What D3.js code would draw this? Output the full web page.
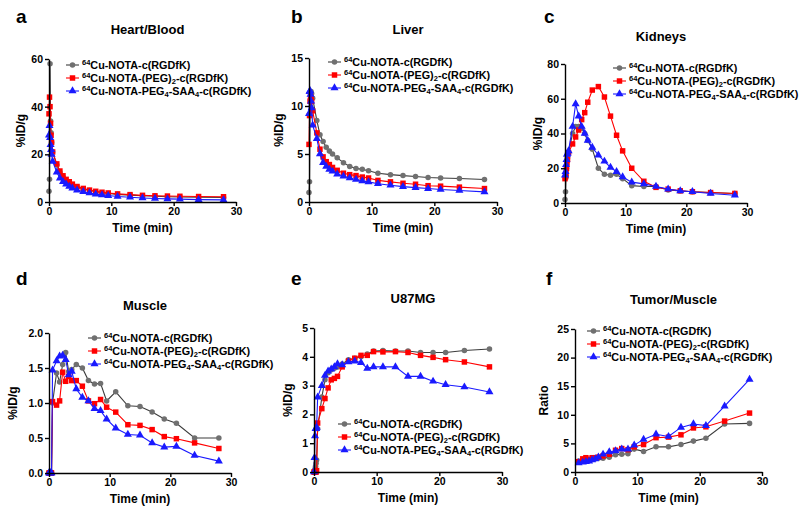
<!DOCTYPE html>
<html>
<head>
<meta charset="utf-8">
<title>Biodistribution curves</title>
<script src="https://cdn.jsdelivr.net/npm/d3@7/dist/d3.min.js"></script>
<style>
  * { margin: 0; padding: 0; }
  body { background: #fff; }
  text { font-family: Arial, "Liberation Sans", sans-serif; font-weight: bold; }
</style>
</head>
<body>
<div id="chart"></div>
<script>
// frame mid-times (min)
var times = [0, 0.083, 0.167, 0.25, 0.333, 0.417, 0.583, 1.25, 1.75, 2.25, 2.75, 3.25, 3.75,
  4.5, 5.5, 6.5, 7.5, 8.5, 9.5, 11, 13, 15, 17, 19, 21, 24, 28];
var timesRatio = [0.583, 1.25, 1.75, 2.25, 2.75, 3.25, 3.75,
  4.5, 5.5, 6.5, 7.5, 8.5, 9.5, 11, 13, 15, 17, 19, 21, 24, 28];

var seriesNames = ["NOTA", "PEG2", "SAA"];

var heartNota = [4.5, 9.5, 58, 34, 29, 25, 21, 15.5, 12.5, 10.5, 9, 8, 7.2, 6.3, 5.5, 4.8, 4.3, 3.9, 3.6, 3.2, 2.9, 2.6, 2.4, 2.2, 2.1, 2.0, 1.9];
var heartPeg2 = [37, 44, 40, 33, 28, 25, 21, 16, 13, 11, 9.5, 8.5, 7.5, 6.5, 5.7, 5.0, 4.5, 4.1, 3.8, 3.4, 3.1, 2.8, 2.6, 2.5, 2.4, 2.3, 2.2];
var heartSaa = [28, 32, 27, 24, 22, 20, 17, 12.5, 10, 8.5, 7.5, 6.5, 5.8, 5.0, 4.3, 3.8, 3.3, 3.0, 2.7, 2.3, 2.0, 1.7, 1.5, 1.3, 1.2, 1.0, 0.9];

var liverNota = [1.0, 2.1, 9, 11.3, 11.5, 11.3, 10.8, 8.5, 7.0, 6.3, 5.7, 5.3, 5.0, 4.6, 4.1, 3.7, 3.5, 3.4, 3.25, 3.0, 2.85, 2.75, 2.65, 2.55, 2.5, 2.45, 2.35];
var liverPeg2 = [6.0, 9.0, 10.5, 11.0, 10.8, 10.5, 9.5, 7.2, 5.5, 4.7, 4.2, 3.9, 3.6, 3.3, 3.0, 2.85, 2.75, 2.6, 2.5, 2.25, 2.1, 1.95, 1.85, 1.7, 1.65, 1.55, 1.4];
var liverSaa = [9.2, 11.5, 11.6, 11.2, 10.5, 9.8, 8.0, 6.6, 5.0, 4.1, 3.7, 3.4, 3.2, 2.9, 2.7, 2.5, 2.35, 2.2, 2.1, 1.9, 1.75, 1.6, 1.5, 1.4, 1.3, 1.2, 1.05];

var kidneyNota = [2, 6.5, 15, 20, 24, 26, 29, 40, 44, 44, 43, 40, 36, 31, 20, 16.5, 16, 16.5, 14, 10, 9.5, 9.5, 7.5, 7, 6.5, 6, 5.5];
var kidneyPeg2 = [14, 15, 17, 20, 23, 25, 29, 34, 38, 42, 48, 52, 58, 65, 67, 61, 50, 39, 30, 20, 12.5, 9, 8, 7, 6.5, 6, 5.5];
var kidneySaa = [16, 18, 22, 25, 28, 28.5, 30, 44, 57, 50, 44, 40, 36, 32, 27.5, 24, 20.5, 18, 15, 12, 11, 9.5, 8, 7, 6.5, 5.5, 4.5];

var muscleNota = [0, 0, 0, 0, 0, 0, 1.0, 1.43, 1.30, 1.55, 1.72, 1.45, 1.48, 1.55, 1.50, 1.32, 1.27, 1.28, 1.03, 1.16, 0.96, 0.95, 0.87, 0.77, 0.71, 0.50, 0.50];
var musclePeg2 = [0, 0, 0, 0, 0, 0, 1.02, 0.97, 1.03, 1.44, 1.31, 1.38, 1.32, 1.32, 1.24, 1.03, 0.99, 1.05, 0.94, 0.87, 0.69, 0.68, 0.62, 0.52, 0.49, 0.43, 0.35];
var muscleSaa = [0, 0, 0, 0, 0, 0, 1.47, 1.60, 1.67, 1.68, 1.62, 1.40, 1.45, 1.20, 1.08, 1.03, 0.92, 0.89, 0.77, 0.64, 0.55, 0.54, 0.43, 0.37, 0.38, 0.25, 0.17];

var tumorNota = [0, 0.05, 0.1, 0.2, 0.3, 0.42, 1.5, 2.6, 3.2, 3.45, 3.55, 3.6, 3.65, 3.75, 3.9, 3.95, 4.0, 4.1, 4.2, 4.22, 4.2, 4.2, 4.15, 4.15, 4.15, 4.22, 4.27];
var tumorPeg2 = [0, 0, 0, 0, 0, 0.05, 1.7, 2.2, 2.55, 2.92, 3.2, 3.25, 3.32, 3.65, 3.85, 3.95, 4.05, 4.05, 4.18, 4.17, 4.18, 4.15, 4.05, 3.98, 3.9, 3.82, 3.65];
var tumorSaa = [0, 0.5, 1.25, 1.5, 1.5, 1.55, 2.6, 3.0, 3.35, 3.5, 3.57, 3.65, 3.75, 3.72, 3.82, 3.85, 3.8, 3.6, 3.65, 3.65, 3.65, 3.32, 3.32, 3.15, 3.03, 2.95, 2.78];

var ratioNota = [1.9, 2.0, 2.1, 2.2, 2.2, 2.3, 2.4, 2.4, 2.6, 3.0, 3.1, 3.2, 4.0, 3.6, 4.4, 4.4, 4.8, 5.4, 5.9, 8.4, 8.5];
var ratioPeg2 = [1.8, 2.3, 2.5, 2.2, 2.5, 2.5, 2.6, 2.8, 3.1, 3.8, 4.1, 3.9, 4.4, 4.8, 6.0, 6.1, 6.5, 7.7, 7.9, 8.9, 10.3];
var ratioSaa = [1.6, 1.7, 1.8, 1.9, 2.1, 2.3, 2.6, 3.1, 3.5, 3.7, 4.0, 4.0, 4.7, 5.7, 6.6, 6.2, 7.8, 8.4, 8.1, 11.5, 16.2];

var xTicks = [0, 10, 20, 30];

var panels = [
  { letter: "a", title: "Heart/Blood", ylabel: "%ID/g", t: times, data: [heartNota, heartPeg2, heartSaa],
    ymax: 60, yticks: [0, 20, 40, 60], fmt: "d",
    box: [49, 236, 59, 202], letterPos: [16, 23], titleY: 34, legend: [66, 65], ylabX: 21 },
  { letter: "b", title: "Liver", ylabel: "%ID/g", t: times, data: [liverNota, liverPeg2, liverSaa],
    ymax: 15, yticks: [0, 5, 10, 15], fmt: "d",
    box: [309, 497, 58, 202], letterPos: [291, 23], titleY: 34, legend: [328, 62], ylabX: 279 },
  { letter: "c", title: "Kidneys", ylabel: "%ID/g", t: times, data: [kidneyNota, kidneyPeg2, kidneySaa],
    ymax: 80, yticks: [0, 20, 40, 60, 80], fmt: "d",
    box: [565, 747, 64, 203], letterPos: [544, 23], titleY: 41, legend: [613, 68], ylabX: 538 },
  { letter: "d", title: "Muscle", ylabel: "%ID/g", t: times, data: [muscleNota, musclePeg2, muscleSaa],
    ymax: 2, yticks: [0, 0.5, 1, 1.5, 2], fmt: ".1f",
    box: [49, 231, 333, 473], letterPos: [16, 285], titleY: 310, legend: [88, 338], ylabX: 13 },
  { letter: "e", title: "U87MG", ylabel: "%ID/g", t: times, data: [tumorNota, tumorPeg2, tumorSaa],
    ymax: 5, yticks: [0, 1, 2, 3, 4, 5], fmt: "d",
    box: [314, 502, 328, 472], letterPos: [291, 285], titleY: 303, legend: [338, 424], ylabX: 288 },
  { letter: "f", title: "Tumor/Muscle", ylabel: "Ratio", t: timesRatio, data: [ratioNota, ratioPeg2, ratioSaa],
    ymax: 25, yticks: [0, 5, 10, 15, 20, 25], fmt: "d",
    box: [575, 762, 329, 472], letterPos: [546, 285], titleY: 304, legend: [587, 331], ylabX: 544 }
];

var lineColors = ["#3c3c3c", "#ff0000", "#1a1aff"];
var markColors = ["#707070", "#ff0000", "#1a1aff"];
var symbols = [d3.symbolCircle, d3.symbolSquare, d3.symbolTriangle];
var symSizes = [24, 30, 28];

var svg = d3.select("#chart").append("svg")
    .attr("width", 800)
    .attr("height", 513);

function legendText(g, i) {
  var t = g.append("text").attr("font-size", 10.8).attr("fill", "#000");
  t.append("tspan").attr("font-size", 7.5).attr("dy", -4).text("64");
  if (i === 0) {
    t.append("tspan").attr("dy", 4).text("Cu-NOTA-c(RGDfK)");
  } else if (i === 1) {
    t.append("tspan").attr("dy", 4).text("Cu-NOTA-(PEG)");
    t.append("tspan").attr("font-size", 7.5).attr("dy", 2).text("2");
    t.append("tspan").attr("dy", -2).text("-c(RGDfK)");
  } else {
    t.append("tspan").attr("dy", 4).text("Cu-NOTA-PEG");
    t.append("tspan").attr("font-size", 7.5).attr("dy", 2).text("4");
    t.append("tspan").attr("dy", -2).text("-SAA");
    t.append("tspan").attr("font-size", 7.5).attr("dy", 2).text("4");
    t.append("tspan").attr("dy", -2).text("-c(RGDfK)");
  }
  return t;
}

panels.forEach(function(p) {
  var x = d3.scaleLinear().domain([0, 30]).range([p.box[0], p.box[1]]);
  var y = d3.scaleLinear().domain([0, p.ymax]).range([p.box[3], p.box[2]]);
  var g = svg.append("g");

  g.append("text").attr("x", p.letterPos[0]).attr("y", p.letterPos[1])
    .attr("font-size", 19).text(p.letter);
  g.append("text").attr("x", (p.box[0] + p.box[1]) / 2 + 5).attr("y", p.titleY)
    .attr("text-anchor", "middle").attr("font-size", 13).text(p.title);

  // series
  p.data.forEach(function(vals, i) {
    var pts = vals.map(function(v, k) { return [p.t[k], v]; });
    g.append("path").datum(pts)
      .attr("fill", "none")
      .attr("stroke", lineColors[i])
      .attr("stroke-width", 1.1)
      .attr("d", d3.line().x(function(d) { return x(d[0]); }).y(function(d) { return y(d[1]); }));
    g.selectAll(null).data(pts).enter().append("path")
      .attr("transform", function(d) { return "translate(" + x(d[0]) + "," + y(d[1]) + ")"; })
      .attr("d", d3.symbol().type(symbols[i]).size(symSizes[i]))
      .attr("fill", markColors[i]);
  });

  // axes
  var xa = g.append("g").attr("transform", "translate(0," + p.box[3] + ")")
    .call(d3.axisBottom(x).tickValues(xTicks).tickSize(4).tickPadding(2).tickSizeOuter(0));
  var ya = g.append("g").attr("transform", "translate(" + p.box[0] + ",0)")
    .call(d3.axisLeft(y).tickValues(p.yticks).tickFormat(d3.format(p.fmt)).tickSize(4).tickPadding(2).tickSizeOuter(0));
  [xa, ya].forEach(function(a) {
    a.select(".domain").attr("stroke", "#000").attr("stroke-width", 1.4);
    a.selectAll(".tick line").attr("stroke", "#000").attr("stroke-width", 1.4);
    a.selectAll(".tick text").attr("font-size", 10.5).attr("fill", "#000")
      .attr("font-family", "Arial, 'Liberation Sans', sans-serif").attr("font-weight", "bold");
  });

  g.append("text").attr("x", (p.box[0] + p.box[1]) / 2).attr("y", p.box[3] + 30)
    .attr("text-anchor", "middle").attr("font-size", 12).text("Time (min)");
  g.append("text")
    .attr("transform", "translate(" + p.ylabX + "," + ((p.box[2] + p.box[3]) / 2) + ") rotate(-90)")
    .attr("text-anchor", "middle").attr("dy", "0.35em").attr("font-size", 12).text(p.ylabel);

  // legend
  seriesNames.forEach(function(s, i) {
    var ly = p.legend[1] + i * 13;
    var lg = g.append("g");
    lg.append("line").attr("x1", p.legend[0]).attr("x2", p.legend[0] + 13)
      .attr("y1", ly).attr("y2", ly).attr("stroke", lineColors[i]).attr("stroke-width", 1.1);
    lg.append("path").attr("transform", "translate(" + (p.legend[0] + 6.5) + "," + ly + ")")
      .attr("d", d3.symbol().type(symbols[i]).size(symSizes[i])).attr("fill", markColors[i]);
    legendText(lg, i).attr("x", p.legend[0] + 16).attr("y", ly + 3.5);
  });
});
</script>
</body>
</html>
